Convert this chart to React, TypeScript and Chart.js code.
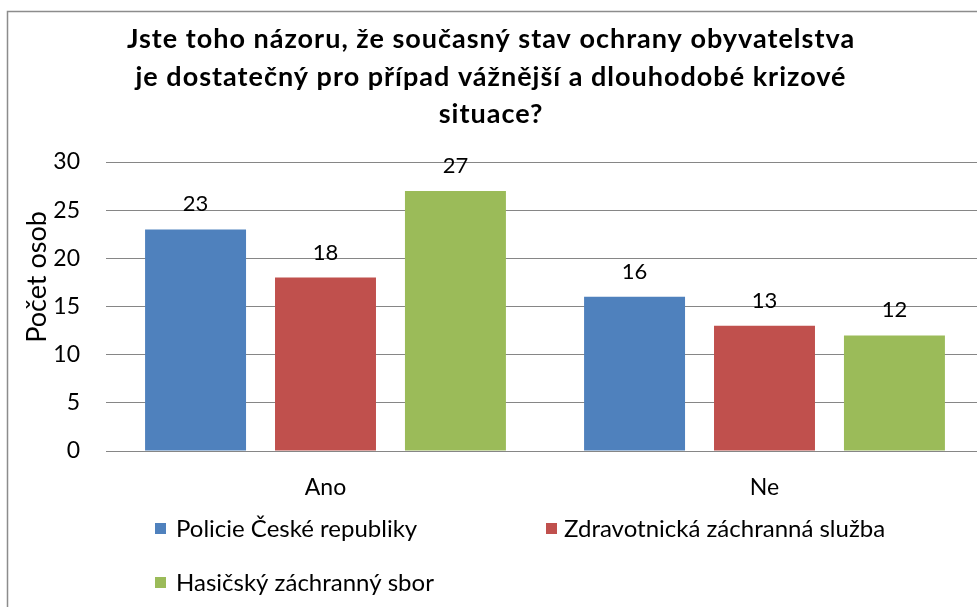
import { useEffect, useRef } from "react";
import { Chart, registerables } from "chart.js";

Chart.register(...registerables);

const titleLines = [
  "Jste toho názoru, že současný stav ochrany obyvatelstva",
  "je dostatečný pro případ vážnější a dlouhodobé krizové",
  "situace?",
];
const categories = ["Ano", "Ne"];
const seriesNames = [
  "Policie České republiky",
  "Zdravotnická záchranná služba",
  "Hasičský záchranný sbor",
];
const policie = [23, 16];
const zdravotnicka = [18, 13];
const hasicsky = [27, 12];
const yAxisTitle = "Počet osob";
const yMin = 0;
const yMax = 30;
const yStep = 5;

const colors = ["#4F81BD", "#C0504D", "#9BBB59"];
const FONT = "Lato, 'Noto Sans', sans-serif";
const W = 1000;
const H = 607;

const decor = {
  id: "decor",
  beforeDraw(chart: any) {
    const ctx = chart.ctx;
    ctx.save();
    ctx.fillStyle = "#ffffff";
    ctx.fillRect(0, 0, W, H);
    ctx.strokeStyle = "#8c8c8c";
    ctx.lineWidth = 1.5;
    ctx.strokeRect(7.5, 11.5, W, H);
    ctx.restore();
  },
  afterDatasetsDraw(chart: any) {
    const ctx = chart.ctx;
    ctx.save();
    ctx.fillStyle = "#000";
    ctx.font = `22px ${FONT}`;
    ctx.textAlign = "center";
    ctx.textBaseline = "alphabetic";
    chart.data.datasets.forEach((ds: any, i: number) => {
      const meta = chart.getDatasetMeta(i);
      meta.data.forEach((el: any, j: number) => {
        ctx.fillText(String(ds.data[j]), el.x, el.y - 18);
      });
    });
    ctx.restore();
  },
  afterDraw(chart: any) {
    const ctx = chart.ctx;
    ctx.save();
    ctx.fillStyle = "#000";
    ctx.textAlign = "center";
    ctx.textBaseline = "alphabetic";
    ctx.font = `bold 27px ${FONT}`;
    (ctx as any).letterSpacing = "1px";
    const ys = [48, 86, 123];
    titleLines.forEach((t, i) => ctx.fillText(t, 491, ys[i]));
    (ctx as any).letterSpacing = "0px";

    ctx.textBaseline = "middle";
    ctx.save();
    ctx.translate(37, 277);
    ctx.rotate(-Math.PI / 2);
    ctx.font = `27px ${FONT}`;
    ctx.fillText(yAxisTitle, 0, 0);
    ctx.restore();

    const pos = [
      [155, 528, 176],
      [546, 528, 564],
      [155, 582, 176],
    ];
    ctx.textAlign = "left";
    ctx.font = `24px ${FONT}`;
    chart.data.datasets.forEach((ds: any, i: number) => {
      const [x, y, tx] = pos[i];
      ctx.fillStyle = ds.backgroundColor;
      ctx.fillRect(x, y - 5, 11, 11);
      ctx.fillStyle = "#000";
      ctx.fillText(ds.label, tx, y + 1);
    });
    ctx.restore();
  },
};

export default function App() {
  const ref = useRef<HTMLCanvasElement | null>(null);
  useEffect(() => {
    if (!ref.current) return;
    const series = [policie, zdravotnicka, hasicsky];
    const chart = new Chart(ref.current, {
      type: "bar",
      data: {
        labels: categories,
        datasets: series.map((d, i) => ({
          label: seriesNames[i],
          data: d,
          backgroundColor: colors[i],
          borderWidth: 0,
          categoryPercentage: 0.888,
          barPercentage: 0.777,
        })),
      },
      options: {
        responsive: false,
        animation: false,
        devicePixelRatio: 1,
        layout: { padding: { top: 162, left: 0, right: 16, bottom: 0 } },
        plugins: {
          legend: { display: false },
          title: { display: false },
          tooltip: { enabled: false },
        },
        scales: {
          x: {
            grid: { display: false, drawTicks: false },
            border: { display: false },
            ticks: { color: "#000", font: { family: FONT, size: 23 }, padding: 23 },
            afterFit: (s: any) => {
              s.height = H - 451;
            },
          },
          y: {
            min: yMin,
            max: yMax,
            ticks: { stepSize: yStep, color: "#000", font: { family: FONT, size: 23 }, padding: 26 },
            grid: { color: "#868686", lineWidth: 1, drawTicks: false },
            border: { display: false },
            afterFit: (s: any) => {
              s.width = 106;
            },
          },
        },
      },
      plugins: [decor],
    });
    return () => chart.destroy();
  }, []);
  return (
    <div
      style={{
        position: "fixed",
        left: 0,
        top: 0,
        width: 977,
        height: 607,
        overflow: "hidden",
        background: "#fff",
      }}
    >
      <canvas ref={ref} width={W} height={H} style={{ width: W, height: H, display: "block" }} />
    </div>
  );
}
